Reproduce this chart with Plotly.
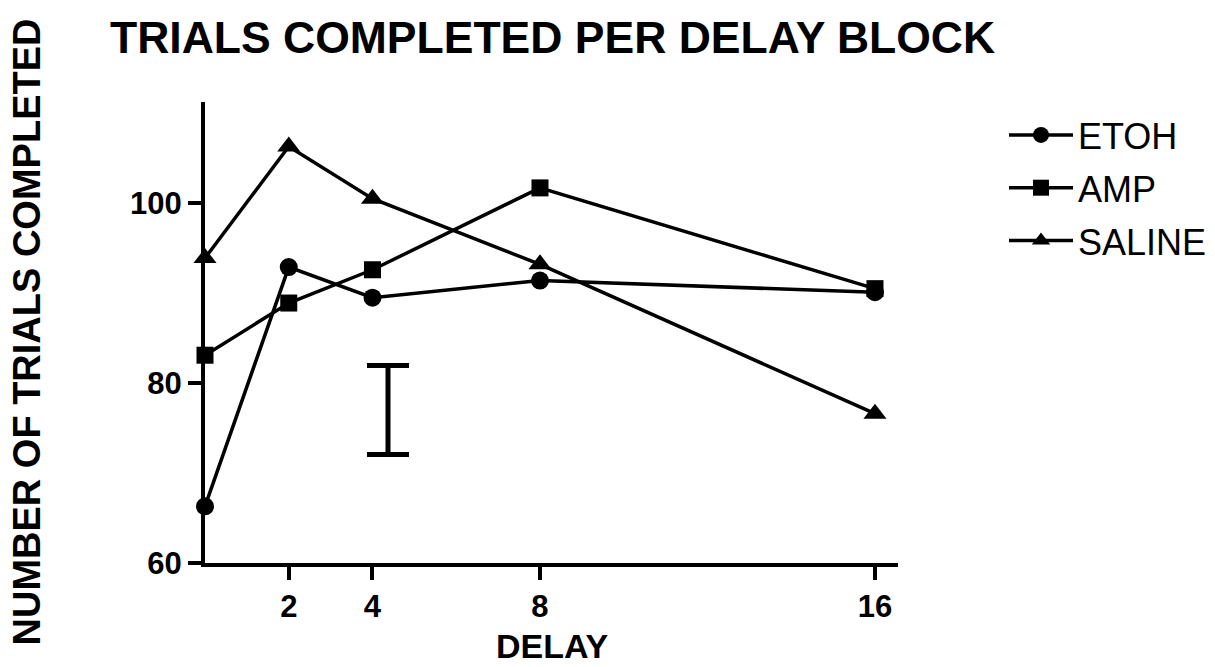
import plotly.graph_objects as go

# Delay blocks (seconds) and mean trials completed per treatment group
delay = [0, 2, 4, 8, 16]
etoh = [66.3, 92.9, 89.5, 91.4, 90.1]
amp = [83.1, 88.9, 92.6, 101.7, 90.5]
saline = [93.9, 106.3, 100.5, 93.2, 76.6]

# Representative error bar (pooled SEM) drawn inside the plot
sem_x = [4.37]
sem_mid = [77.0]
sem_half = [4.95]

x_ticks = [2, 4, 8, 16]
y_ticks = [60, 80, 100]

FONT = "Arial, Liberation Sans, sans-serif"

series = [
    ("ETOH", etoh, "circle", 18),
    ("AMP", amp, "square", 17),
    ("SALINE", saline, "triangle-up", 20),
]

fig = go.Figure()
for name, vals, sym, size in series:
    fig.add_trace(go.Scatter(
        x=delay, y=vals, name=name, legendgroup=name, mode="lines+markers",
        line=dict(color="black", width=3.5),
        marker=dict(symbol=sym, size=size, color="black"),
        cliponaxis=False,
    ))

fig.add_trace(go.Scatter(
    x=sem_x, y=sem_mid, mode="markers", showlegend=False,
    marker=dict(size=1, color="rgba(0,0,0,0)"),
    error_y=dict(type="data", array=sem_half, color="black",
                 thickness=5, width=21),
))

fig.update_layout(
    width=1215, height=667,
    margin=dict(l=205, r=317, t=102, b=104, autoexpand=False),
    paper_bgcolor="white", plot_bgcolor="white",
    font=dict(family=FONT, color="black"),
    title=dict(text="TRIALS COMPLETED PER DELAY BLOCK",
               font=dict(size=44.5, weight="bold", family=FONT),
               x=110 / 1215, xanchor="left", xref="container",
               y=1 - 37 / 667, yanchor="middle", yref="container"),
    showlegend=True,
    legend=dict(x=1004 / 1215, xanchor="left", xref="container",
                y=1 - 188 / 667, yanchor="middle", yref="container",
                font=dict(size=36, family=FONT),
                bgcolor="rgba(0,0,0,0)", tracegroupgap=3,
                itemwidth=64),
    annotations=[
        dict(text="NUMBER OF TRIALS COMPLETED", textangle=-90,
             xref="paper", yref="paper", x=(26 - 205) / 693, y=0.5,
             xanchor="center", yanchor="middle", showarrow=False,
             font=dict(size=38, weight="bold", family=FONT)),
        dict(text="DELAY",
             xref="paper", yref="paper", x=0.5, y=-(667 - 563) / 461,
             xanchor="center", yanchor="bottom", showarrow=False,
             font=dict(size=34, weight="bold", family=FONT)),
    ],
)

fig.update_xaxes(
    range=[0, 16.55], tickvals=x_ticks, ticktext=[str(t) for t in x_ticks],
    showline=True, linewidth=4, linecolor="black",
    ticks="outside", ticklen=13, tickwidth=4, tickcolor="black",
    tickfont=dict(size=31, weight="bold", family=FONT),
    showgrid=False, zeroline=False,
)
fig.update_yaxes(
    range=[60, 111.25], tickvals=y_ticks,
    showline=True, linewidth=4, linecolor="black",
    ticks="outside", ticklen=13, tickwidth=4, tickcolor="black",
    tickfont=dict(size=31, weight="bold", family=FONT),
    showgrid=False, zeroline=False,
)

fig.write_html("out.html")
